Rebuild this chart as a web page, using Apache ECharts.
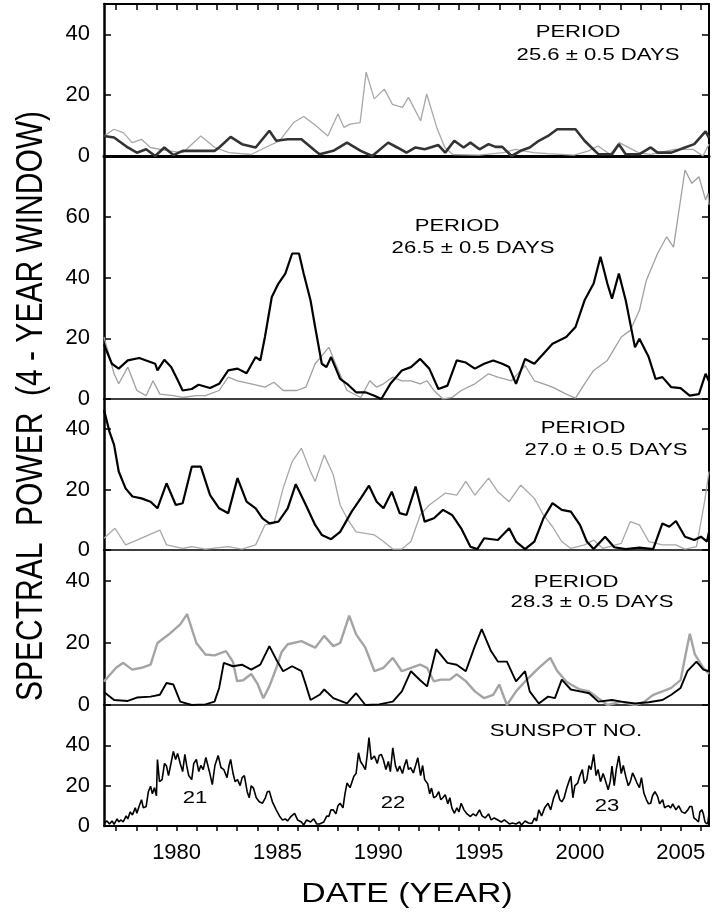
<!DOCTYPE html>
<html><head><meta charset="utf-8">
<script src="https://cdn.jsdelivr.net/npm/echarts@6/dist/echarts.min.js"></script>
<style>html,body{margin:0;padding:0;background:#fff}#c{width:713px;height:913px}</style>
</head><body><div id="c"></div>
<script>
// ---------------- DATA ----------------
const xMin = 1976.4, xMax = 2006.4;
const yearTicks = [1977,1978,1979,1980,1981,1982,1983,1984,1985,1986,1987,1988,1989,1990,1991,1992,1993,1994,1995,1996,1997,1998,1999,2000,2001,2002,2003,2004,2005,2006];
const yearLabels = [1980,1985,1990,1995,2000,2005];
const panelMax = [50, 80, 50, 50, 60];
const panelTitles = ['PERIOD', 'PERIOD', 'PERIOD', 'PERIOD', 'SUNSPOT NO.'];
const panelPeriods = ['25.6 ± 0.5 DAYS', '26.5 ± 0.5 DAYS', '27.0 ± 0.5 DAYS', '28.3 ± 0.5 DAYS'];
const cycleLabels = ['21', '22', '23'];
const yTitle = 'SPECTRAL  POWER  (4 - YEAR WINDOW)';
const xTitle = 'DATE (YEAR)';

const p1Gray = [[1976.4,6.6],[1976.9,8.8],[1977.35,7.7],[1977.8,4.4],[1978.26,5.5],[1978.7,2.8],[1979.6,1.7],[1980.3,1.1],[1981.2,6.6],[1981.9,2.8],[1982.6,1.1],[1983.7,0.5],[1984.4,2.8],[1985.1,5],[1985.8,11],[1986.3,13],[1986.9,10],[1987.5,6.6],[1988.0,13.8],[1988.3,9.4],[1988.6,10.5],[1989.1,11],[1989.4,27.6],[1989.8,18.8],[1990.3,22],[1990.7,17],[1991.2,16],[1991.5,19.3],[1992.1,11.6],[1992.4,20.4],[1992.9,9.4],[1993.3,2.8],[1993.7,0.5],[1995.0,0.3],[1996.2,1.1],[1996.8,2.2],[1997.7,1.1],[1998.4,0.8],[1999.7,0.3],[2000.4,1.6],[2000.9,3.3],[2001.5,0.5],[2001.95,4.4],[2002.9,1.1],[2003.5,0.5],[2004.7,2.2],[2005.6,2.2],[2006.1,0],[2006.4,3.9]];
const p1Black = [[1976.4,6.6],[1976.9,6.1],[1977.58,2.8],[1978.03,1.1],[1978.49,2.2],[1978.94,0],[1979.39,2.8],[1979.84,0.3],[1980.3,1.7],[1981.2,1.7],[1981.88,1.7],[1982.11,2.8],[1982.68,6.3],[1983.24,3.9],[1983.92,2.8],[1984.6,8.3],[1984.94,5],[1985.51,5.5],[1986.19,5.5],[1986.87,1.7],[1987.09,0.6],[1987.77,1.7],[1988.45,4.4],[1989.13,1.7],[1989.7,0],[1990.49,4.4],[1990.94,2.8],[1991.4,1.1],[1991.85,2.8],[1992.3,2.2],[1992.98,3.6],[1993.32,1.1],[1993.77,5],[1994.23,2.8],[1994.57,4.4],[1995.02,2.2],[1995.47,3.9],[1995.81,3],[1996.15,3],[1996.61,0],[1997.06,1.7],[1997.51,2.8],[1997.96,5],[1998.42,6.6],[1998.87,8.8],[1999.32,8.8],[1999.78,8.8],[2000.23,5],[2000.91,0.6],[2001.59,0.6],[2001.93,3.9],[2002.27,0.6],[2002.95,0.6],[2003.51,2.8],[2003.85,1.1],[2004.53,1.1],[2005.21,2.8],[2005.67,3.9],[2006.23,8.1],[2006.4,6]];

const p2Black = [[1976.4,18],[1976.79,11.6],[1977.13,10],[1977.58,12.7],[1978.15,13.5],[1978.49,12.7],[1978.94,11.6],[1979.05,9.4],[1979.39,12.9],[1979.73,10.5],[1980.07,6],[1980.3,2.8],[1980.75,3.3],[1981.09,4.7],[1981.66,3.6],[1982.11,5],[1982.56,9.4],[1983.02,10],[1983.47,8.5],[1983.92,13.8],[1984.15,12.7],[1984.38,20.4],[1984.72,33.6],[1985.05,38],[1985.39,41.3],[1985.73,47.9],[1986.07,47.9],[1986.3,41.3],[1986.64,32.5],[1986.87,23.7],[1987.2,11.6],[1987.43,10.5],[1987.66,13.8],[1988.11,6.6],[1988.45,5],[1988.9,2.2],[1989.36,2.2],[1989.81,1.1],[1990.15,0],[1990.6,5],[1991.17,9.4],[1991.62,10.5],[1992.08,13.2],[1992.53,10],[1992.98,3.3],[1993.43,4.4],[1993.89,12.7],[1994.34,12],[1994.79,10],[1995.25,11.6],[1995.7,12.7],[1996.15,11.6],[1996.49,10.5],[1996.83,5],[1997.28,13.2],[1997.74,11.6],[1998.19,14.9],[1998.64,18.2],[1999.32,20.4],[1999.78,23.7],[2000.23,32.5],[2000.68,38],[2001.02,46.8],[2001.36,38],[2001.59,33],[2001.93,41.3],[2002.27,32.5],[2002.73,17],[2002.95,19.8],[2003.41,13.8],[2003.75,6.6],[2004.09,7.2],[2004.53,3.9],[2004.99,3.6],[2005.44,1.1],[2005.9,1.6],[2006.23,8.3],[2006.4,5.8]];
const p2Gray = [[1976.4,20.4],[1976.9,8.3],[1977.13,5],[1977.58,10.5],[1978.03,2.8],[1978.49,1.1],[1978.83,6],[1979.17,1.6],[1979.84,1.1],[1980.3,0.5],[1980.98,1.1],[1981.43,1.1],[1982.11,2.8],[1982.56,7.2],[1983.02,6],[1983.7,5],[1984.38,3.9],[1984.83,5.5],[1985.28,2.8],[1985.96,2.8],[1986.41,3.9],[1986.87,11.6],[1987.55,17],[1987.88,11.6],[1988.45,2.8],[1989.13,0.5],[1989.58,6],[1989.92,3.9],[1990.26,5],[1990.72,7.2],[1991.17,6],[1991.62,6],[1992.08,5],[1992.42,6],[1992.76,2.8],[1993.21,0],[1993.66,0.5],[1994.11,2.8],[1994.79,5],[1995.47,8.3],[1995.93,7.2],[1996.61,6],[1997.28,11],[1997.74,6],[1998.19,5],[1998.64,3.9],[1999.32,1.6],[1999.78,0.3],[2000.23,5],[2000.68,9.4],[2001.36,12.7],[2002.05,20.4],[2002.5,22.6],[2002.95,29.2],[2003.29,39],[2003.85,47.9],[2004.3,53.4],[2004.64,50],[2005.21,75.4],[2005.55,71],[2005.9,73.2],[2006.23,65.5],[2006.35,67.7],[2006.4,63.9]];

const p3Black = [[1976.4,46.4],[1976.67,39.2],[1976.9,34.8],[1977.13,26],[1977.47,20.4],[1977.81,17.7],[1978.26,17.1],[1978.71,16],[1979.05,13.8],[1979.5,22.1],[1979.96,14.9],[1980.3,15.5],[1980.75,27.6],[1981.2,27.6],[1981.66,18.2],[1982.11,13.8],[1982.56,12.2],[1983.02,23.8],[1983.47,16],[1983.92,13.8],[1984.26,10.5],[1984.6,8.8],[1985.05,9.4],[1985.51,13.8],[1985.91,21.8],[1986.41,14.9],[1986.87,8.3],[1987.2,5],[1987.66,3.6],[1988.11,6],[1988.68,12.7],[1989.13,17.1],[1989.54,21.3],[1989.92,16],[1990.26,13.8],[1990.67,19.3],[1991.06,12.2],[1991.4,11.6],[1991.85,21],[1992.3,9.4],[1992.76,10.5],[1993.21,13.3],[1993.66,11.6],[1994.11,7.2],[1994.57,1.1],[1994.91,0.3],[1995.25,3.9],[1995.93,3.3],[1996.49,7.2],[1996.83,2.8],[1997.28,0.3],[1997.74,2.8],[1998.19,10.5],[1998.64,15.5],[1999.1,13.3],[1999.55,12.7],[2000.0,8.3],[2000.34,2.8],[2000.68,0.3],[2001.25,4.4],[2001.7,0.9],[2002.27,0.3],[2002.95,0.8],[2003.63,0.3],[2004.09,8.8],[2004.43,7.7],[2004.76,9.6],[2005.21,4.4],[2005.67,3.3],[2006.0,4.4],[2006.3,2.8],[2006.4,6]];
const p3Gray = [[1976.4,3.9],[1976.94,7.2],[1977.47,1.7],[1978.03,3.3],[1979.17,6.6],[1979.5,1.7],[1980.3,0.5],[1980.75,1.1],[1981.43,0.3],[1982.56,1.1],[1983.24,0.3],[1983.92,1.7],[1984.38,8.3],[1984.83,8.8],[1985.28,20.4],[1985.73,29.3],[1986.19,33.7],[1986.64,26],[1986.87,22.7],[1987.32,31.5],[1987.77,24.9],[1988.11,14.9],[1988.45,10.5],[1988.9,6],[1989.36,5.5],[1989.81,5],[1990.26,2.8],[1990.72,0.3],[1991.17,0.3],[1991.62,2.8],[1992.08,11.6],[1992.53,14.9],[1993.32,18.8],[1993.89,18.2],[1994.34,22.7],[1994.79,18.2],[1995.47,23.8],[1995.93,19.3],[1996.49,16],[1997.06,21.5],[1997.74,17.1],[1998.19,11.6],[1998.64,7.7],[1999.1,2.8],[1999.55,0.5],[2000.23,1.7],[2000.68,3.3],[2001.14,0.5],[2002.05,2.2],[2002.5,9.4],[2002.95,8.3],[2003.41,2.8],[2004.09,1.7],[2004.76,1.7],[2005.21,0.3],[2005.78,1.1],[2006.18,16],[2006.4,26]];

const p4Black = [[1976.4,4.2],[1976.9,1.6],[1977.58,1.3],[1978.03,2.4],[1978.71,2.7],[1979.17,3.3],[1979.5,7.1],[1979.84,6.6],[1980.18,1.1],[1980.75,0],[1981.43,0.2],[1981.88,1.1],[1982.11,5.5],[1982.34,13.6],[1982.79,12.5],[1983.24,13],[1983.7,11.4],[1984.15,13],[1984.6,19],[1984.94,14.7],[1985.28,10.9],[1985.73,12.5],[1986.19,10.9],[1986.41,6.5],[1986.64,1.6],[1987.09,3.3],[1987.32,5],[1987.77,2.2],[1988.45,0.5],[1988.9,3.8],[1989.36,0],[1990.04,0.2],[1990.72,1.1],[1991.17,4.4],[1991.62,10.9],[1992.08,8],[1992.42,6],[1992.87,18],[1993.43,13.6],[1993.89,13],[1994.34,10.9],[1994.79,19],[1995.13,24.5],[1995.59,17.4],[1995.93,14],[1996.38,14],[1996.83,7.6],[1997.28,10.9],[1997.51,4.4],[1997.96,0.5],[1998.42,2.7],[1998.76,2.2],[1999.1,8.2],[1999.55,5],[2000.0,4.4],[2000.46,3.8],[2000.91,1.1],[2001.59,1.6],[2002.05,1.1],[2002.73,0.5],[2003.41,0.9],[2004.09,1.6],[2004.53,3.3],[2004.99,5.5],[2005.33,10.9],[2005.78,14],[2006.12,11.4],[2006.4,10.9]];
const p4Gray = [[1976.4,7.6],[1977.0,12],[1977.35,13.6],[1977.8,11.4],[1978.26,12],[1978.71,13],[1979.05,20],[1979.62,22.8],[1980.18,26],[1980.52,29.3],[1980.98,20],[1981.43,16.3],[1981.88,16],[1982.45,17.4],[1982.79,14],[1983.0,7.7],[1983.3,8],[1983.7,10],[1984.0,7],[1984.3,2.2],[1984.6,6],[1984.95,12],[1985.2,17],[1985.51,19.6],[1986.19,20.6],[1986.87,18.5],[1987.32,22.3],[1987.77,19],[1988.11,20],[1988.56,28.8],[1988.9,22.8],[1989.36,18.5],[1989.81,10.9],[1990.26,12],[1990.72,15.2],[1991.17,10.9],[1991.62,12],[1992.08,13],[1992.42,12],[1992.76,7.6],[1993.1,8.2],[1993.55,8.2],[1993.89,9.9],[1994.34,7.7],[1994.79,4.4],[1995.25,2.2],[1995.7,3.3],[1996.0,6.6],[1996.38,0],[1996.83,4.4],[1997.28,7.6],[1997.96,12],[1998.53,15.2],[1998.87,11],[1999.32,7.6],[1999.55,6.6],[2000.0,5],[2000.46,4.4],[2000.91,2.2],[2001.37,0],[2002.05,1.1],[2002.73,0],[2003.18,1],[2003.64,3.3],[2004.09,4.4],[2004.53,5.5],[2004.99,8],[2005.2,15],[2005.45,23],[2005.7,16.3],[2006.12,12],[2006.4,10]];

const sunspot = [[1976.4,1.3],[1976.55,2.5],[1976.67,1],[1976.8,2.5],[1976.9,0.8],[1977.05,3.5],[1977.13,2],[1977.25,3],[1977.35,2],[1977.5,5],[1977.58,3.5],[1977.7,7],[1977.81,5.5],[1977.95,9],[1978.03,6.3],[1978.15,10],[1978.26,13],[1978.35,9],[1978.49,9.7],[1978.6,17],[1978.71,19.7],[1978.8,16],[1978.9,19],[1979.0,15],[1979.05,33],[1979.15,22],[1979.28,23],[1979.4,31],[1979.5,29.7],[1979.6,25],[1979.7,30],[1979.84,37],[1979.95,33],[1980.05,36],[1980.18,31],[1980.3,27],[1980.41,35.5],[1980.5,30],[1980.6,25],[1980.75,23],[1980.85,31],[1980.98,33],[1981.1,27],[1981.2,30],[1981.32,28],[1981.45,34],[1981.54,33.8],[1981.65,26],[1981.77,20.5],[1981.9,30],[1982.06,35],[1982.2,29],[1982.34,28],[1982.5,24],[1982.6,30],[1982.68,33],[1982.8,26],[1982.9,22],[1983.02,23],[1983.15,20],[1983.25,24],[1983.36,25],[1983.5,17],[1983.6,14],[1983.7,20],[1983.81,18.8],[1983.95,14],[1984.1,12],[1984.26,11.3],[1984.4,14],[1984.5,17],[1984.6,17.2],[1984.75,12],[1984.94,8],[1985.1,5],[1985.25,3],[1985.39,3.5],[1985.5,2.5],[1985.65,4.5],[1985.85,6.3],[1986.0,3],[1986.19,2],[1986.3,0.5],[1986.45,3],[1986.64,2],[1986.8,3.5],[1986.95,1],[1987.09,1],[1987.3,2],[1987.45,5],[1987.55,4.7],[1987.65,8],[1987.77,8],[1987.9,6],[1988.0,10],[1988.11,11.3],[1988.25,9],[1988.35,16],[1988.45,21.3],[1988.6,19],[1988.7,22],[1988.79,24.7],[1988.9,26],[1989.02,36.3],[1989.12,32],[1989.25,30],[1989.36,28],[1989.45,35],[1989.54,43.8],[1989.65,33],[1989.81,34.7],[1989.95,31],[1990.05,35],[1990.15,35.5],[1990.25,33],[1990.38,28],[1990.5,32],[1990.6,27],[1990.72,38.8],[1990.85,30],[1990.95,27],[1991.06,29.7],[1991.2,26],[1991.3,30],[1991.4,33],[1991.5,28],[1991.6,29],[1991.74,26.3],[1991.85,30],[1991.96,33.8],[1992.1,25],[1992.2,30],[1992.3,23],[1992.45,21],[1992.55,16],[1992.64,18.8],[1992.75,14],[1992.87,14.7],[1993.0,17],[1993.1,13],[1993.2,14],[1993.32,15.5],[1993.45,11],[1993.55,14],[1993.65,9],[1993.77,6.3],[1993.9,9],[1994.0,7],[1994.11,11.3],[1994.25,8],[1994.4,6],[1994.57,4.7],[1994.7,6],[1994.85,5],[1995.02,8],[1995.15,5],[1995.3,4],[1995.47,6],[1995.6,3],[1995.75,4],[1995.93,3],[1996.1,2],[1996.25,3],[1996.38,2],[1996.5,1],[1996.65,1.5],[1996.83,1],[1997.0,2],[1997.1,0.5],[1997.28,2.5],[1997.45,1.5],[1997.62,1.3],[1997.75,4],[1997.85,2.5],[1997.96,8],[1998.1,5],[1998.25,9],[1998.42,11.3],[1998.55,8],[1998.7,14],[1998.87,18],[1999.0,13],[1999.1,12],[1999.21,13.8],[1999.35,19],[1999.45,22],[1999.55,24.7],[1999.65,14],[1999.75,20],[1999.89,21.3],[2000.0,25],[2000.12,28],[2000.22,21],[2000.34,23],[2000.45,30],[2000.55,28],[2000.68,35.5],[2000.8,25],[2000.9,28],[2001.02,22],[2001.15,26],[2001.25,23],[2001.4,18],[2001.5,22],[2001.59,29.7],[2001.7,20],[2001.8,28],[2001.93,34.7],[2002.05,26],[2002.15,30],[2002.27,24.7],[2002.4,20],[2002.5,22],[2002.61,26.3],[2002.72,24],[2002.83,21.3],[2002.95,19],[2003.05,24],[2003.17,16.3],[2003.3,13],[2003.4,11],[2003.51,11.3],[2003.6,15],[2003.72,17],[2003.85,14.7],[2003.95,11],[2004.1,13],[2004.2,9],[2004.3,9.7],[2004.4,10],[2004.5,9],[2004.6,11],[2004.76,8],[2004.9,10],[2005.05,7],[2005.21,6.3],[2005.35,8],[2005.45,9.7],[2005.55,9.7],[2005.65,4],[2005.78,3],[2005.88,2],[2005.95,7],[2006.05,8],[2006.12,6],[2006.2,2],[2006.3,1],[2006.35,2],[2006.4,6.3]];

// ---------------- LAYOUT / STYLE ----------------
const FONT = 'Liberation Sans, Arial, sans-serif';
const grids = [
  {left:104, right:4, top:4, height:152},
  {left:104, right:4, top:156, height:243},
  {left:104, right:4, top:399, height:151},
  {left:104, right:4, top:550, height:155},
  {left:104, right:4, top:705, height:121}
];
const zeroWidth = [3, 1.5, 1.5, 1.5, 2];

const xAxis = grids.map((g, i) => ({
  gridIndex: i, type: 'value', min: xMin, max: xMax, position: 'bottom',
  axisLine: {show: true, onZero: false, lineStyle: {color: '#000', width: zeroWidth[i]}},
  axisTick: {show: i === 4, customValues: yearTicks, inside: false, length: 5, lineStyle: {color: '#000', width: 1.5}},
  axisLabel: {show: i === 4, customValues: yearLabels, color: '#000', fontSize: 22, fontFamily: FONT, margin: 16,
    formatter: v => String(Math.round(v))},
  splitLine: {show: false}
}));
xAxis.push({
  gridIndex: 0, type: 'value', min: xMin, max: xMax, position: 'top',
  axisLine: {show: true, onZero: false, lineStyle: {color: '#000', width: 2}},
  axisTick: {show: true, customValues: yearTicks, inside: true, length: 6, lineStyle: {color: '#000', width: 1.5}},
  axisLabel: {show: false}, splitLine: {show: false}
});

const yAxis = [];
grids.forEach((g, i) => {
  yAxis.push({
    gridIndex: i, type: 'value', min: 0, max: panelMax[i], interval: 20, position: 'left',
    axisLine: {show: true, onZero: false, lineStyle: {color: '#000', width: 2.5}},
    axisTick: {show: true, inside: true, length: 7, lineStyle: {color: '#000', width: 1.5}},
    axisLabel: {color: '#000', fontSize: 22, fontFamily: FONT, margin: 14, showMaxLabel: false},
    splitLine: {show: false}
  });
});
grids.forEach((g, i) => {
  yAxis.push({
    gridIndex: i, type: 'value', min: 0, max: panelMax[i], interval: 20, position: 'right',
    axisLine: {show: true, onZero: false, lineStyle: {color: '#000', width: 2}},
    axisTick: {show: true, inside: true, length: 7, lineStyle: {color: '#000', width: 1.5}},
    axisLabel: {show: false}, splitLine: {show: false}
  });
});

function line(data, idx, color, width, z) {
  return {type: 'line', data: data, xAxisIndex: idx, yAxisIndex: idx, showSymbol: false, symbol: 'none',
    lineStyle: {color: color, width: width}, z: z, silent: true, clip: true};
}
const series = [
  line(p1Gray, 0, '#a8a8a8', 1.3, 2), line(p1Black, 0, '#333333', 2.6, 3),
  line(p2Gray, 1, '#a0a0a0', 1.3, 2), line(p2Black, 1, '#000000', 2.2, 3),
  line(p3Gray, 2, '#a8a8a8', 1.3, 2), line(p3Black, 2, '#000000', 2.2, 3),
  line(p4Gray, 3, '#a4a4a4', 2.4, 2), line(p4Black, 3, '#000000', 1.9, 3),
  line(sunspot, 4, '#000000', 1.6, 3)
];

function txt(x, y, s, size, sx) {
  return {type: 'text', x: x, y: y, scaleX: sx || 1, silent: true,
    style: {text: s, fill: '#000', font: size + 'px ' + FONT, textAlign: 'center', textVerticalAlign: 'middle'}};
}
const annPos = [[578,32,598,55],[457,226,473,248],[583,428,606,450],[576,582,592,602]];
const graphic = [];
annPos.forEach((p, i) => {
  graphic.push(txt(p[0], p[1], panelTitles[i], 17, 1.3));
  graphic.push(txt(p[2], p[3], panelPeriods[i], 17, 1.3));
});
graphic.push(txt(566, 731, panelTitles[4], 17, 1.3));
const cyclePos = [[195,798],[393,803],[607,806]];
cycleLabels.forEach((c, i) => graphic.push(txt(cyclePos[i][0], cyclePos[i][1], c, 17, 1.3)));
graphic.push(txt(407, 895, xTitle, 27, 1.25));
graphic.push({type: 'text', x: 32, y: 406, rotation: Math.PI / 2, scaleY: 1.2, silent: true,
  style: {text: yTitle, fill: '#000', font: '30px ' + FONT, textAlign: 'center', textVerticalAlign: 'middle'}});

const chart = echarts.init(document.getElementById('c'), null, {renderer: 'canvas'});
chart.setOption({
  animation: false, backgroundColor: '#fff',
  grid: grids, xAxis: xAxis, yAxis: yAxis, series: series, graphic: graphic
});
</script></body></html>
